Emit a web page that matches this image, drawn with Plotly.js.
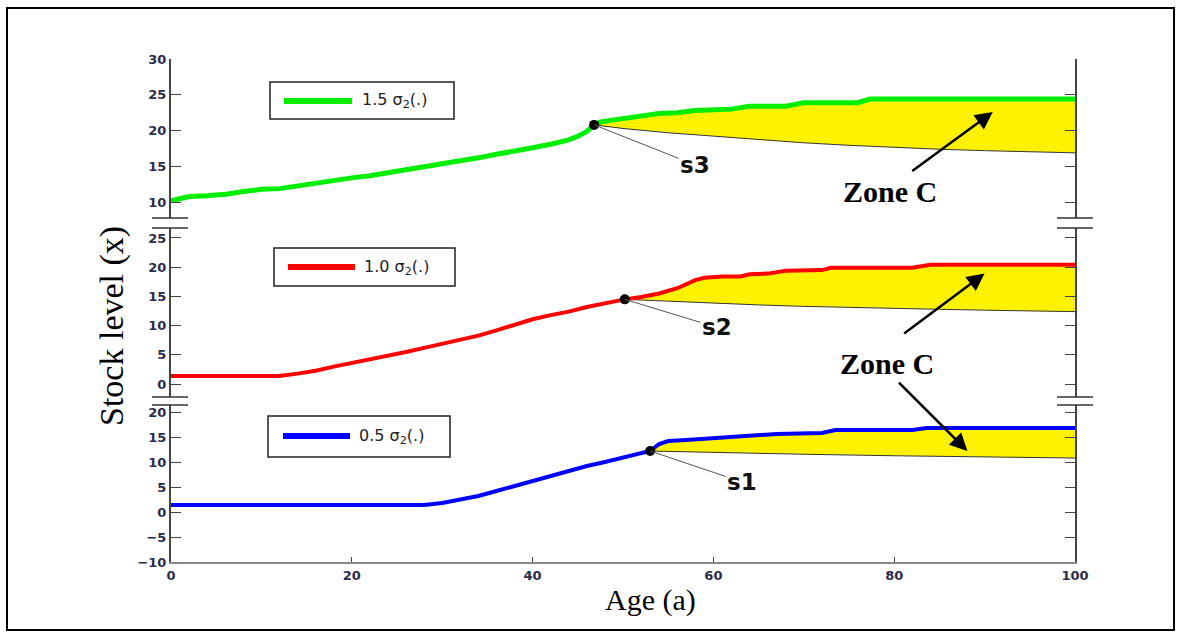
<!DOCTYPE html>
<html>
<head>
<meta charset="utf-8">
<script src="https://cdn.plot.ly/plotly-3.0.1.min.js"></script>
<style>html,body{margin:0;padding:0;background:#fff;}#chart{width:1181px;height:632px;}</style>
</head>
<body>
<div id="chart"></div>
<script>
// ---------- DATA ----------
const age15 = [0,2,4,6,8,10,12,14,16,18,20,22,24,26,28,30,32,34,36,38,40,42,44,45,46,46.8,47.5,49,50,52,54,56,58,62,64,68,70,76,77.3,100];
const stock15 = [10.2,10.8,10.9,11.1,11.5,11.8,11.9,12.3,12.7,13.1,13.4,13.7,14.1,14.5,14.9,15.4,15.8,16.2,16.7,17.1,17.6,18.1,18.7,19.2,19.9,20.8,21.2,21.5,21.7,22.0,22.4,22.5,22.8,23.0,23.4,23.4,23.9,23.9,24.4,24.4];
const lowerAge15 = [46.8,50,55,60,65,70,75,80,85,90,95,100];
const lower15 = [20.8,20.3,19.7,19.2,18.7,18.3,17.95,17.65,17.4,17.2,17.05,16.9];

const age10 = [0,12,14,16,18,20,22,24,26,28,30,32,34,36,38,40,42,44,46,48,50.2,52,54,56,57,58,59,61,63,64,66,68,72,73,82,84,100];
const stock10 = [1.4,1.4,1.8,2.3,3.0,3.6,4.2,4.9,5.5,6.2,6.9,7.6,8.3,9.2,10.1,11.1,11.8,12.4,13.2,13.9,14.5,14.9,15.5,16.4,17.1,17.8,18.2,18.4,18.4,18.8,18.9,19.4,19.5,19.9,19.9,20.4,20.4];
const lowerAge10 = [50.2,55,60,65,70,75,80,85,90,95,100];
const lower10 = [14.5,14.15,13.85,13.55,13.3,13.1,12.95,12.8,12.65,12.5,12.4];

const age05 = [0,28,30,32,34,36,38,40,42,44,46,48,50,52,53,54,55,57,59,61,63,65,67,72,73.5,82,83.6,100];
const stock05 = [1.4,1.4,1.8,2.4,3.2,4.2,5.2,6.2,7.2,8.3,9.2,10.0,10.8,11.6,12.2,13.6,14.2,14.4,14.6,15.0,15.2,15.4,15.6,15.8,16.4,16.4,16.8,16.8];
const lowerAge05 = [53,60,70,80,90,100];
const lower05 = [12.2,11.9,11.55,11.25,11.0,10.8];

const switchNames = ['s1','s2','s3'];
const switchAge = [53.0, 50.2, 46.8];
const switchVal = [12.2, 14.5, 20.8];

const legendNames = ['0.5 σ<sub>2</sub>(.)','1.0 σ<sub>2</sub>(.)','1.5 σ<sub>2</sub>(.)'];
const colors = ['#0000ff','#ff0000','#00ee00'];
const xTicks = [0,20,40,60,80,100];

// ---------- LAYOUT HELPERS ----------
const W=1181,H=632,L=171,R=106,T=59,B=70;
const PW=W-L-R, PH=H-T-B;
const px = p => (p-L)/PW;
const py = p => 1-(p-T)/PH;

const panels = [
  {age:age05, val:stock05, la:lowerAge05, lv:lower05, yref:'y'},
  {age:age10, val:stock10, la:lowerAge10, lv:lower10, yref:'y2'},
  {age:age15, val:stock15, la:lowerAge15, lv:lower15, yref:'y3'}
];

const traces = [];
panels.forEach((p,i)=>{
  const sA = switchAge[i];
  const upA = [], upV = [];
  p.age.forEach((a,k)=>{ if(a>=sA){ upA.push(a); upV.push(p.val[k]); } });
  const polyX = upA.concat(p.la.slice().reverse());
  const polyY = upV.concat(p.lv.slice().reverse());
  traces.push({x:polyX, y:polyY, yaxis:p.yref, type:'scatter', mode:'lines', fill:'toself', fillcolor:'#fff200', line:{width:0}, hoverinfo:'skip', showlegend:false});
  traces.push({x:p.la, y:p.lv, yaxis:p.yref, type:'scatter', mode:'lines', line:{color:'#333', width:1}, showlegend:false});
  traces.push({x:p.age, y:p.val, yaxis:p.yref, type:'scatter', mode:'lines', line:{color:colors[i], width:i===2?5:4}, showlegend:false});
  traces.push({x:[sA], y:[switchVal[i]], yaxis:p.yref, type:'scatter', mode:'markers', marker:{color:'#000', size:10}, showlegend:false});
});

const tickFont = {family:'DejaVu Sans, Arial', size:13, color:'#2b2b4b', weight:'bold'};
const yCommon = {showline:true, linecolor:'#444', linewidth:2, mirror:'ticks', ticks:'inside', ticklen:10, tickcolor:'#444', tickwidth:1, showgrid:false, zeroline:false, tickfont:tickFont, fixedrange:true};

const shapes = [];
// outer frame
shapes.push({type:'rect', xref:'paper', yref:'paper', x0:px(7), x1:px(1174), y0:py(630), y1:py(8), line:{color:'#000', width:2}});
// break marks
[218,228,397,405].forEach(yy=>{
  shapes.push({type:'line', xref:'paper', yref:'paper', x0:px(152), x1:px(188), y0:py(yy), y1:py(yy), line:{color:'#333', width:1.5}});
  shapes.push({type:'line', xref:'paper', yref:'paper', x0:px(1057), x1:px(1093), y0:py(yy), y1:py(yy), line:{color:'#333', width:1.5}});
});
// legend boxes
const legBoxes = [
  {x0:268,x1:450,y0:416,y1:457,lx0:283,lx1:350,ly:436,tx:357},
  {x0:274,x1:455,y0:248,y1:286,lx0:288,lx1:355,ly:267,tx:362},
  {x0:270,x1:454,y0:82,y1:119,lx0:284,lx1:352,ly:101,tx:360}
];
const annotations = [];
legBoxes.forEach((b,i)=>{
  shapes.push({type:'rect', xref:'paper', yref:'paper', x0:px(b.x0), x1:px(b.x1), y0:py(b.y1), y1:py(b.y0), line:{color:'#222', width:1.5}, fillcolor:'#fff'});
  shapes.push({type:'line', xref:'paper', yref:'paper', x0:px(b.lx0), x1:px(b.lx1), y0:py(b.ly), y1:py(b.ly), line:{color:colors[i], width:6}});
  annotations.push({xref:'paper', yref:'paper', x:px(b.tx), y:py(b.ly), xanchor:'left', yanchor:'middle', text:legendNames[i], showarrow:false, font:{family:'DejaVu Sans, Arial', size:16, color:'#222'}});
});

// switch point labels
const sOff = [[92,31],[92,28],[101,40]];
switchNames.forEach((n,i)=>{
  annotations.push({x:switchAge[i], y:switchVal[i], xref:'x', yref:panels[i].yref, text:'<b>'+n+'</b>', showarrow:true, arrowhead:0, arrowwidth:1, arrowcolor:'#555', ax:sOff[i][0], ay:sOff[i][1], font:{family:'DejaVu Sans, Arial', size:23, color:'#111'}});
});

// Zone C labels
const serif = 'Liberation Serif, Times New Roman, serif';
annotations.push({xref:'paper', yref:'paper', x:px(890), y:py(192), xanchor:'center', yanchor:'middle', text:'<b>Zone C</b>', showarrow:false, font:{family:serif, size:30, color:'#000'}});
annotations.push({xref:'paper', yref:'paper', x:px(887), y:py(363), xanchor:'center', yanchor:'middle', text:'<b>Zone C</b>', showarrow:false, font:{family:serif, size:30, color:'#000'}});
// Zone C arrows
[[90.9,22.6,'y3',-82,60],[90.0,18.9,'y2',-82,61],[88.1,12.2,'y',-70,-70]].forEach(a=>{
  annotations.push({x:a[0], y:a[1], xref:'x', yref:a[2], text:'', showarrow:true, arrowhead:2, arrowsize:1.4, arrowwidth:2.5, arrowcolor:'#000', ax:a[3], ay:a[4], standoff:0});
});

// axis titles
annotations.push({xref:'paper', yref:'paper', x:px(112), y:py(326), xanchor:'center', yanchor:'middle', text:'Stock level (x)', textangle:-90, showarrow:false, font:{family:serif, size:34, color:'#000'}});
annotations.push({xref:'paper', yref:'paper', x:px(650), y:py(600), xanchor:'center', yanchor:'middle', text:'Age (a)', showarrow:false, font:{family:serif, size:30, color:'#000'}});

const layout = {
  width:W, height:H,
  margin:{l:L, r:R, t:T, b:B},
  paper_bgcolor:'#fff', plot_bgcolor:'rgba(0,0,0,0)',
  showlegend:false,
  xaxis:{range:[0,100], tickvals:xTicks, ticks:'inside', ticklen:5, tickcolor:'#444', showline:true, linecolor:'#888', linewidth:2, showgrid:false, zeroline:false, anchor:'y', tickfont:tickFont, fixedrange:true},
  xaxis2:{range:[0,100], overlaying:'x', anchor:'y3', side:'top', tickvals:xTicks, ticks:'inside', ticklen:5, tickcolor:'#444', showline:true, linecolor:'#444', linewidth:2, showticklabels:false, showgrid:false, zeroline:false, fixedrange:true},
  yaxis:Object.assign({}, yCommon, {domain:[0,0.3121], range:[-10,21.4], tickvals:[-10,-5,0,5,10,15,20]}),
  yaxis2:Object.assign({}, yCommon, {domain:[0.328,0.664], range:[-2.2,26.7], tickvals:[0,5,10,15,20,25]}),
  yaxis3:Object.assign({}, yCommon, {domain:[0.6839,1], range:[7.8,30], tickvals:[10,15,20,25,30]}),
  shapes:shapes,
  annotations:annotations
};
Plotly.newPlot('chart', traces, layout, {displayModeBar:false, staticPlot:true});
</script>
</body>
</html>
